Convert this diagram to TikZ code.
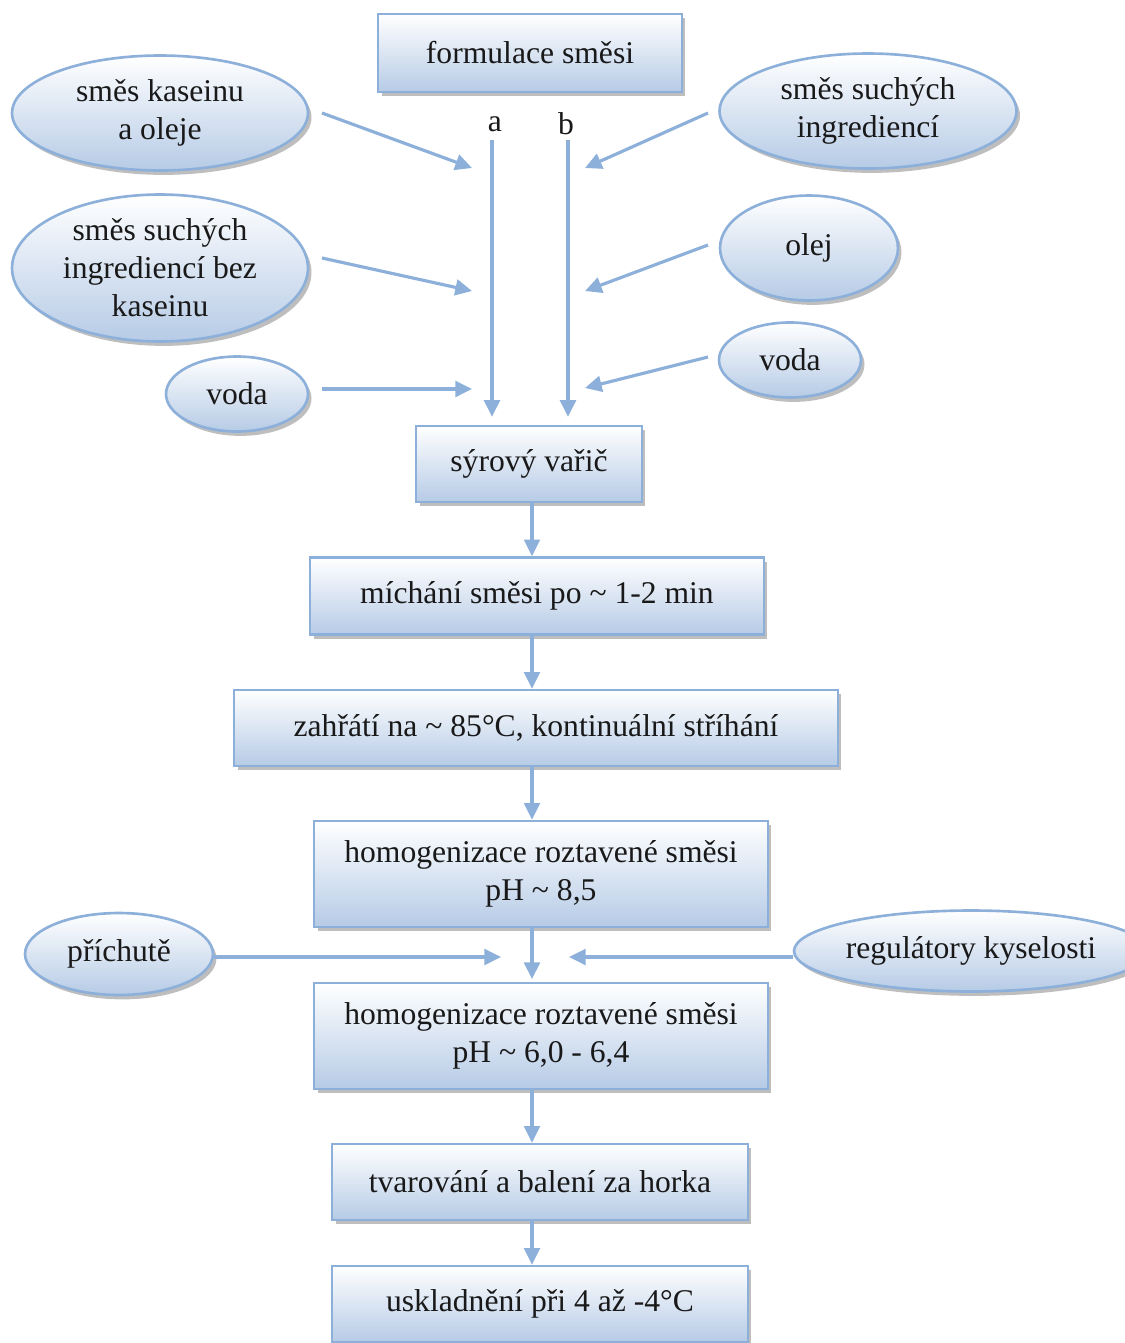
\documentclass[tikz,border=0pt]{standalone}
\usepackage{fontspec}
\setmainfont{Liberation Serif}
\usetikzlibrary{shapes.geometric,shadows,arrows.meta}
\definecolor{lineblue}{RGB}{141,176,218}
\definecolor{fillblue}{RGB}{182,203,230}
\definecolor{shadegray}{RGB}{125,125,125}

\begin{document}
\begin{tikzpicture}[x=0.02cm, y=-0.02cm,
        every node/.style={font=\fontsize{18}{21.6}\selectfont, text=black!90},
        stepbox/.style={rectangle, draw=lineblue, line width=1.5pt, top color=white, bottom color=fillblue,
            drop shadow={shadow xshift=2pt, shadow yshift=-2.5pt, fill=shadegray}, align=center, inner sep=0pt},
        inblob/.style={ellipse, draw=lineblue, line width=1.5pt, top color=white, bottom color=fillblue,
            drop shadow={shadow xshift=2pt, shadow yshift=-2.5pt, fill=shadegray}, align=center, inner sep=0pt},
        flow/.style={draw=lineblue, line width=1.8pt, -{Triangle[length=9.5pt, width=9pt]}}]
        \useasboundingbox (0,0) rectangle (1125,1343);

        % Draw start box and inputs
        \node[stepbox, minimum width=6.08cm, minimum height=1.56cm] (recipe) at (530,53) {formulace směsi};
        \node[inblob, minimum width=5.92cm, minimum height=2.3cm] (casein) at (160,113) {\begin{tabular}{@{}c@{}}směs kaseinu\\a oleje\end{tabular}};
        \node[inblob, minimum width=5.92cm, minimum height=2.94cm] (drynocas) at (160,268) {směs suchých\\ingrediencí bez\\kaseinu};
        \node[inblob, minimum width=2.84cm, minimum height=1.5cm] (waterl) at (237,394) {voda};
        \node[inblob, minimum width=5.94cm, minimum height=2.3cm] (dry) at (868,111) {směs suchých\\ingrediencí};
        \node[inblob, minimum width=3.56cm, minimum height=2.1cm] (oil) at (809,248) {olej};
        \node[inblob, minimum width=2.84cm, minimum height=1.5cm] (waterr) at (790,360) {voda};

        % Draw process boxes
        \node[stepbox, minimum width=4.52cm, minimum height=1.52cm] (cooker) at (529,464) {sýrový vařič};
        \node[stepbox, minimum width=9.08cm, minimum height=1.54cm] (mixing) at (537,596) {míchání směsi po \textasciitilde{} 1-2 min};
        \node[stepbox, minimum width=12.08cm, minimum height=1.52cm] (heating) at (536,728) {zahřátí na \textasciitilde{} 85°C, kontinuální stříhání};
        \node[stepbox, minimum width=9.08cm, minimum height=2.12cm] (homoga) at (541,874) {homogenizace roztavené směsi\\pH \textasciitilde{} 8,5};
        \node[stepbox, minimum width=9.08cm, minimum height=2.12cm] (homogb) at (541,1036) {homogenizace roztavené směsi\\pH \textasciitilde{} 6,0 - 6,4};
        \node[stepbox, minimum width=8.32cm, minimum height=1.52cm] (shaping) at (540,1182) {tvarování a balení za horka};
        \node[stepbox, minimum width=8.32cm, minimum height=1.52cm] (storage) at (540,1304) {uskladnění při 4 až -4°C};

        % Draw side inputs
        \node[inblob, minimum width=3.76cm, minimum height=1.64cm] (flavour) at (119,954) {příchutě};
        \node[inblob, minimum width=6.76cm, minimum height=1.62cm] (acidity) at (971,951) {regulátory kyselosti};

        % Draw lines a and b
        \node (la) at (495,124) {a};
        \node (lb) at (566,124) {b};
        \coordinate (a0) at (492,140);
        \coordinate (b0) at (568,140);
        \draw[flow, shorten >=4.5pt] (a0) -- (a0 |- cooker.north);
        \draw[flow, shorten >=4.5pt] (b0) -- (b0 |- cooker.north);

        % Draw input arrows
        \coordinate (t1) at (322,113); \coordinate (h1) at (472,168);
        \coordinate (t2) at (322,258); \coordinate (h2) at (472,291);
        \coordinate (t3) at (322,389); \coordinate (h3) at (472,389);
        \coordinate (t4) at (708,113); \coordinate (h4) at (585,168);
        \coordinate (t5) at (708,245); \coordinate (h5) at (585,291);
        \coordinate (t6) at (708,357); \coordinate (h6) at (585,388);
        \foreach \i in {1,...,6}
            \draw[flow] (t\i) -- (h\i);

        % Draw process arrows
        \coordinate (spine) at (532,0);
        \draw[flow] (spine |- cooker.south) -- (spine |- mixing.north);
        \draw[flow] (spine |- mixing.south) -- (spine |- heating.north);
        \draw[flow] (spine |- heating.south) -- (spine |- homoga.north);
        \draw[flow, shorten >=1.5pt] (spine |- homoga.south) -- (spine |- homogb.north);
        \draw[flow] (spine |- homogb.south) -- (spine |- shaping.north);
        \draw[flow] (spine |- shaping.south) -- (spine |- storage.north);

        % Draw flavour and acidity arrows
        \coordinate (h7) at (501,957);
        \coordinate (h8) at (569,957);
        \draw[flow] (flavour.east |- h7) -- (h7);
        \draw[flow] (acidity.west |- h8) -- (h8);
    \end{tikzpicture}
\end{document}
